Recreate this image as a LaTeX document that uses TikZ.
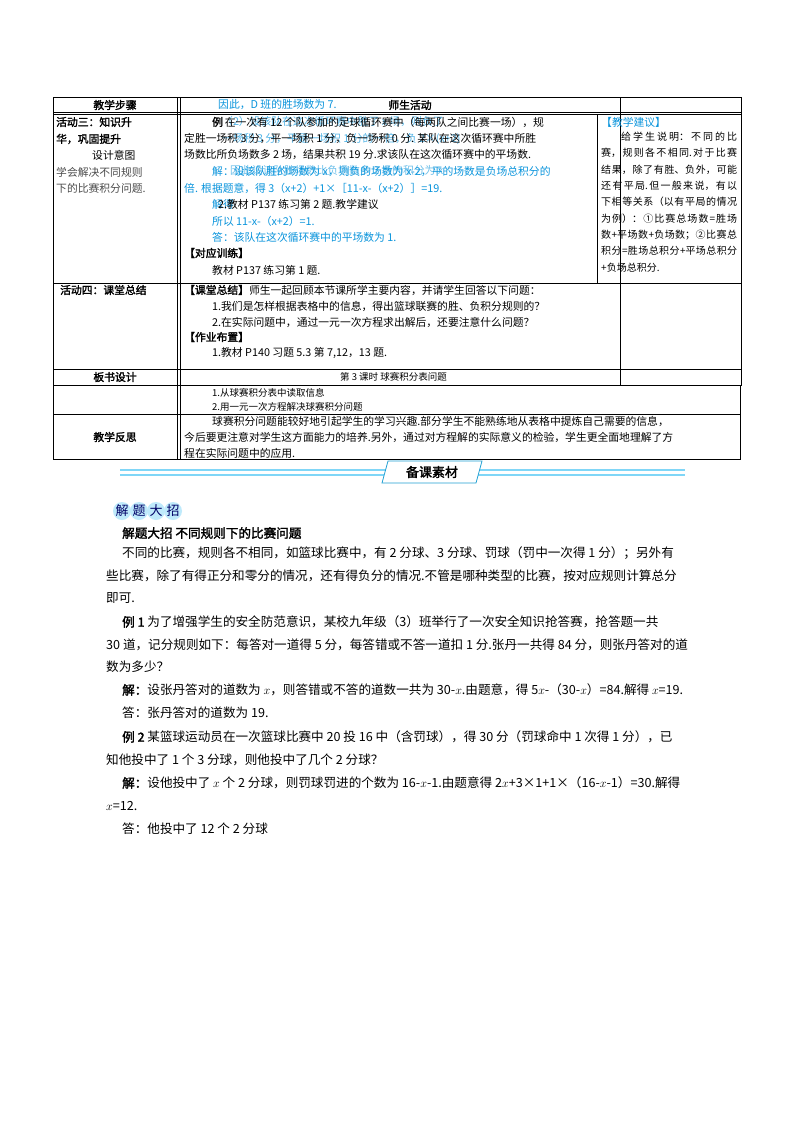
\documentclass[tikz,border=0pt]{standalone}
\usepackage{fontspec}
\setmainfont{Noto Sans CJK SC}
\newfontfamily\bold[FakeBold=2]{Noto Sans CJK SC}
\XeTeXlinebreaklocale "zh"
\XeTeXlinebreakskip=0pt plus 1pt
\begin{document}
\begin{tikzpicture}[x=1pt,y=-1pt,
  t/.style={anchor=west,inner sep=0pt,font=\fontsize{10.8}{12}\selectfont},
  b/.style={t,text=cyan!80!blue},
  bx/.style={t,font=\fontsize{10.8}{12}\selectfont\bold},
  c/.style={anchor=center,inner sep=0pt,font=\fontsize{10.8}{12}\selectfont\bold},
  s/.style={anchor=west,inner sep=0pt,font=\fontsize{12.6}{14}\selectfont},
  sb/.style={s,font=\fontsize{12.6}{14}\selectfont\bold},
  tl/.style={line width=0.6pt}]
\useasboundingbox (0,0) rectangle (800,1132);
\fill[white] (0,0) rectangle (800,1132);
% table frame
\draw[tl] (53,97) rectangle (741,385);
\draw[tl] (53,385) -- (53,459) -- (740,459) -- (740,385);
\draw[tl] (53,112) -- (741,112); \draw[tl] (53,114) -- (741,114);
\draw[tl] (53,283) -- (741,283);
\draw[tl] (53,369) -- (741,369);
\draw[tl] (53,414) -- (740,414);
\draw[tl] (177,97) -- (177,459); \draw[tl] (180,97) -- (180,459);
\draw[tl] (620,97) -- (620,385);
\draw[tl] (597,114) -- (597,283);
% header
\node[c] (h1) at (115,105) {教学步骤};
\node[c] (h2) at (410,105) {师生活动};
\node[b] (bl0) at (218,105) {因此，D 班的胜场数为 7.};
% row 1
\node[bx] (r1a) at (56,122) {活动三：知识升};
\node[bx] (r1b) at (56,139) {华，巩固提升};
\node[t] (r1c) at (92,155) {设计意图};
\node[t,text=gray!60!black] (r1d) at (56,172) {学会解决不同规则};
\node[t,text=gray!60!black] (r1e) at (56,188) {下的比赛积分问题.};
\node[b,opacity=.7] (bl1) at (222,121) {（2）设该队在这次循环赛中胜了 x 场，则负了};
\node[b,opacity=.7] (bl2) at (222,139) {一场积 3 分，平是一场积 1 分的一倍，负 2×(x+2)};
\node[t] (e1) at (212,122) {\bold 例\,\normalfont 在一次有 12 个队参加的足球循环赛中（每两队之间比赛一场），规};
\node[t] (e2) at (184,139) {定胜一场积 3 分，平一场积 1 分，负一场积 0 分. 某队在这次循环赛中所胜};
\node[t] (e3) at (184,155) {场数比所负场数多 2 场，结果共积 19 分.求该队在这次循环赛中的平场数.};
\node[b] (bl3) at (212,172) {解：设该队胜的场数为 x，则负的场数为 x-2，平的场数是负场总积分的};
\node[b,opacity=.6] (bl3b) at (230,170) {因此设该队胜场数比负场数多 2 场的积分为 x};
\node[b] (bl4) at (184,188) {倍.  根据题意，得 3（x+2）+1×［11-x-（x+2）］=19.};
\node[b] (bl5) at (212,204) {解得};
\node[t] (e4) at (218,204) {2.教材 P137 练习第 2 题.教学建议};
\node[b] (bl6) at (212,221) {所以 11-x-（x+2）=1.};
\node[b] (bl7) at (212,237) {答：该队在这次循环赛中的平场数为 1.};
\node[bx] (e5) at (184,253) {【对应训练】};
\node[t] (e6) at (212,270) {教材 P137 练习第 1 题.};
% suggestion column
\node[b] (sg0) at (601,122) {【教学建议】};
\node[t,align=justify,anchor=north west,text width=136pt,font=\fontsize{10}{16.3}\selectfont] (sg) at (601,132)
 {\hspace*{20pt}给学生说明：不同的比赛，规则各不相同.对于比赛结果，除了有胜、负外，可能还有平局.但一般来说，有以下相等关系（以有平局的情况为例）：①比赛总场数=胜场数+平场数+负场数；②比赛总积分=胜场总积分+平场总积分+负场总积分.};
% row 2
\node[bx] (r2) at (60,290) {活动四：课堂总结};
\node[t] (f1) at (184,290) {\bold【课堂总结】\normalfont 师生一起回顾本节课所学主要内容，并请学生回答以下问题：};
\node[t] (f2) at (212,306) {1.我们是怎样根据表格中的信息，得出篮球联赛的胜、负积分规则的？};
\node[t] (f3) at (212,322) {2.在实际问题中，通过一元一次方程求出解后，还要注意什么问题？};
\node[bx] (f4) at (184,337) {【作业布置】};
\node[t] (f5) at (212,353) {1.教材 P140 习题 5.3 第 7,12，13 题.};
% row 3
\node[c] (r3) at (115,377) {板书设计};
\node[t,font=\fontsize{9.5}{10}\selectfont] (g0) at (340,377) {第 3 课时\ 球赛积分表问题};
\node[t,font=\fontsize{9.5}{10}\selectfont] (g1) at (212,393) {1.从球赛积分表中读取信息};
\node[t,font=\fontsize{9.5}{10}\selectfont] (g2) at (212,407) {2.用一元一次方程解决球赛积分问题};
% row 4
\node[c] (r4) at (115,437) {教学反思};
\node[t] (k1) at (212,421) {球赛积分问题能较好地引起学生的学习兴趣.部分学生不能熟练地从表格中提炼自己需要的信息，};
\node[t] (k2) at (184,437) {今后要更注意对学生这方面能力的培养.另外，通过对方程解的实际意义的检验，学生更全面地理解了方};
\node[t] (k3) at (184,453) {程在实际问题中的应用.};
% banner
\draw[cyan!50,line width=1.2pt] (120,470) -- (685,470);
\draw[cyan!50,line width=1.2pt] (120,475) -- (685,475);
\fill[white] (388,461) -- (482,461) -- (476,483) -- (382,483) -- cycle;
\draw[cyan!70!teal,line width=0.8pt] (388,461) -- (482,461) -- (476,483) -- (382,483) -- cycle;
\node[c,font=\fontsize{13}{14}\selectfont\bold] (ban) at (432,472) {备课素材};
% badge
\foreach \i/\ch in {0/解,1/题,2/大,3/招}{
  \fill[cyan!25] (122+\i*17,511) circle (9);
  \node[anchor=center,inner sep=0pt,font=\fontsize{13}{14}\selectfont,text=blue!40!black] (bd\i) at (122+\i*17,511) {\ch};}
% body
\node[sb] (p0) at (122,533) {解题大招\ 不同规则下的比赛问题};
\node[s] (p1) at (122,553) {不同的比赛，规则各不相同，如篮球比赛中，有 2 分球、3 分球、罚球（罚中一次得 1 分）；另外有};
\node[s] (p2) at (106,576) {些比赛，除了有得正分和零分的情况，还有得负分的情况.不管是哪种类型的比赛，按对应规则计算总分};
\node[s] (p3) at (106,598) {即可.};
\node[s] (p4) at (122,622) {\bold 例 1\normalfont\ 为了增强学生的安全防范意识，某校九年级（3）班举行了一次安全知识抢答赛，抢答题一共};
\node[s] (p5) at (106,645) {30 道，记分规则如下：每答对一道得 5 分，每答错或不答一道扣 1 分.张丹一共得 84 分，则张丹答对的道};
\node[s] (p6) at (106,667) {数为多少？};
\node[s] (p7) at (122,690) {\bold 解：\normalfont 设张丹答对的道数为 $x$，则答错或不答的道数一共为 30-$x$.由题意，得 5$x$-（30-$x$）=84.解得 $x$=19.};
\node[s] (p8) at (122,713) {答：张丹答对的道数为 19.};
\node[s] (p9) at (122,737) {\bold 例 2\normalfont\ 某篮球运动员在一次篮球比赛中 20 投 16 中（含罚球），得 30 分（罚球命中 1 次得 1 分），已};
\node[s] (p10) at (106,760) {知他投中了 1 个 3 分球，则他投中了几个 2 分球？};
\node[s] (p11) at (122,783) {\bold 解：\normalfont 设他投中了 $x$ 个 2 分球，则罚球罚进的个数为 16-$x$-1.由题意得 2$x$+3×1+1×（16-$x$-1）=30.解得};
\node[s] (p12) at (106,806) {$x$=12.};
\node[s] (p13) at (122,829) {答：他投中了 12 个 2 分球};
\end{tikzpicture}
\end{document}
